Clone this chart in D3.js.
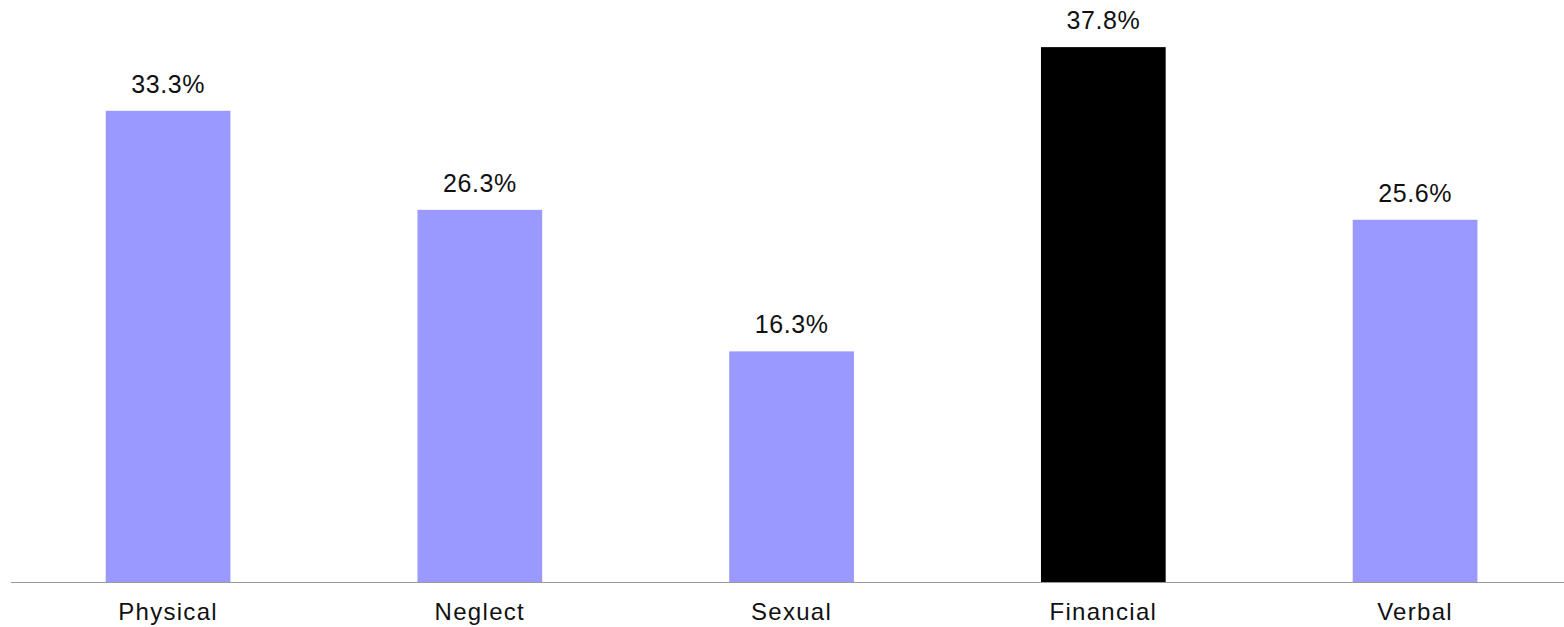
<!DOCTYPE html>
<html>
<head>
<meta charset="utf-8">
<script src="https://cdn.jsdelivr.net/npm/d3@7"></script>
<style>
  body { margin: 0; background: #fff; }
  text { font-family: "Liberation Sans", Arial, sans-serif; fill: #111; }
</style>
</head>
<body>
<script>
const WIDTH = 1564;
const HEIGHT = 627;
const BASELINE_Y = 582;
const AXIS_LEFT = 11;

const categories = ["Physical", "Neglect", "Sexual", "Financial", "Verbal"];
const values = [33.3, 26.3, 16.3, 37.8, 25.6];
const highlight = "Financial";

const svg = d3.select("body").append("svg")
  .attr("width", WIDTH)
  .attr("height", HEIGHT);

// band range shifted a touch so bar centres land where the original has them
const x = d3.scaleBand()
  .domain(categories)
  .range([AXIS_LEFT + 1.2, AXIS_LEFT + 1.2 + 5 * 311.75])
  .paddingInner(0.6)
  .paddingOuter(0.3);

const y = d3.scaleLinear()
  .domain([0, 40])
  .range([BASELINE_Y, BASELINE_Y - 566]);

const rows = categories.map((c, i) => ({ name: c, value: values[i] }));

svg.append("g")
  .selectAll("rect")
  .data(rows)
  .enter().append("rect")
  .attr("x", d => x(d.name))
  .attr("y", d => y(d.value))
  .attr("width", x.bandwidth())
  .attr("height", d => y(0) - y(d.value))
  .style("fill", d => d.name === highlight ? "#000000" : "#9999ff");

svg.append("g")
  .selectAll("text")
  .data(rows)
  .enter().append("text")
  .attr("x", d => x(d.name) + x.bandwidth() / 2)
  .attr("y", d => y(d.value) - 18)
  .attr("text-anchor", "middle")
  .style("font-size", "25px")
  .style("letter-spacing", "0.6px")
  .text(d => `${d.value.toFixed(1)}%`);

// x axis: plain line plus category names
svg.append("line")
  .attr("x1", AXIS_LEFT)
  .attr("x2", WIDTH)
  .attr("y1", BASELINE_Y + 0.5)
  .attr("y2", BASELINE_Y + 0.5)
  .style("stroke", "#999")
  .style("stroke-width", 1);

svg.append("g")
  .selectAll("text")
  .data(categories)
  .enter().append("text")
  .attr("x", d => x(d) + x.bandwidth() / 2)
  .attr("y", 620)
  .attr("text-anchor", "middle")
  .style("font-size", "24px")
  .style("letter-spacing", "1.3px")
  .text(d => d);
</script>
</body>
</html>
